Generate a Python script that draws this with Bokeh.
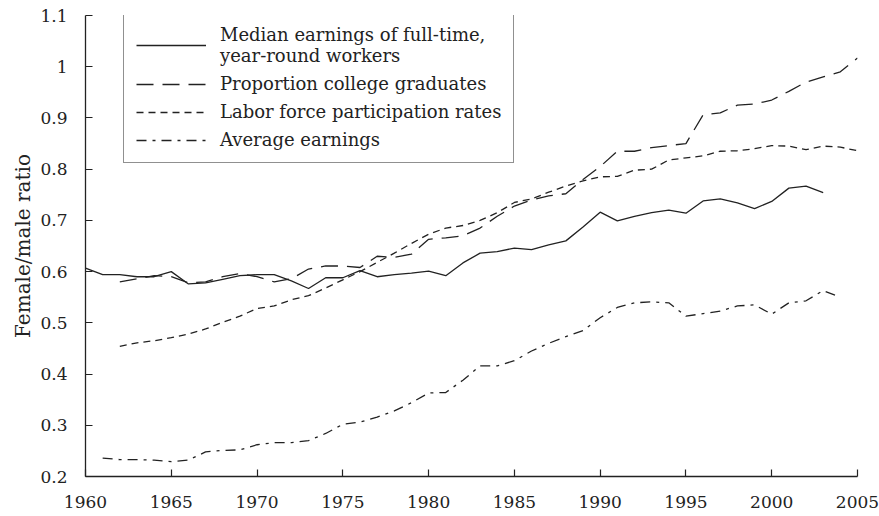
from bokeh.plotting import figure
from bokeh.models import Range1d, FixedTicker, Legend, LegendItem
from bokeh.embed import file_html
from bokeh.resources import INLINE

years_median = list(range(1960, 2004))
median_earnings = [0.607, 0.594, 0.594, 0.590, 0.590, 0.600, 0.576, 0.578, 0.585, 0.592,
                   0.594, 0.594, 0.582, 0.567, 0.588, 0.588, 0.602, 0.590, 0.594, 0.597,
                   0.601, 0.592, 0.617, 0.636, 0.639, 0.646, 0.643, 0.652, 0.660, 0.687,
                   0.716, 0.699, 0.708, 0.715, 0.720, 0.714, 0.738, 0.742, 0.734, 0.723,
                   0.737, 0.763, 0.767, 0.754]

years_college = list(range(1962, 2006))
college_grads = [0.580, 0.586, 0.592, 0.590, 0.578, 0.580, 0.590, 0.596, 0.590, 0.580,
                 0.586, 0.605, 0.611, 0.611, 0.608, 0.630, 0.628, 0.634, 0.663, 0.666,
                 0.670, 0.685, 0.708, 0.728, 0.740, 0.748, 0.752, 0.780, 0.805, 0.835,
                 0.835, 0.842, 0.846, 0.850, 0.906, 0.910, 0.925, 0.927, 0.935, 0.952,
                 0.970, 0.980, 0.990, 1.017]

years_lfp = list(range(1962, 2006))
labor_force = [0.454, 0.461, 0.465, 0.471, 0.478, 0.488, 0.501, 0.513, 0.528, 0.533,
               0.545, 0.553, 0.568, 0.584, 0.600, 0.618, 0.636, 0.655, 0.673, 0.685,
               0.690, 0.700, 0.715, 0.735, 0.742, 0.755, 0.767, 0.777, 0.785, 0.786,
               0.798, 0.800, 0.818, 0.822, 0.826, 0.835, 0.836, 0.840, 0.846, 0.845,
               0.838, 0.845, 0.843, 0.836]

years_avg = list(range(1961, 2005))
average_earnings = [0.236, 0.233, 0.233, 0.232, 0.229, 0.232, 0.248, 0.251, 0.252, 0.262,
                    0.266, 0.266, 0.270, 0.284, 0.302, 0.306, 0.316, 0.328, 0.344, 0.363,
                    0.364, 0.388, 0.416, 0.416, 0.426, 0.445, 0.460, 0.473, 0.485, 0.510,
                    0.530, 0.539, 0.541, 0.539, 0.513, 0.518, 0.523, 0.533, 0.535, 0.517,
                    0.539, 0.543, 0.563, 0.550]

x_ticks = list(range(1960, 2006, 5))
y_ticks = [0.2, 0.3, 0.4, 0.5, 0.6, 0.7, 0.8, 0.9, 1.0, 1.1]
y_tick_labels = ["0.2", "0.3", "0.4", "0.5", "0.6", "0.7", "0.8", "0.9", "1", "1.1"]

labels = ["Median earnings of full-time,\nyear-round workers",
          "Proportion college graduates",
          "Labor force participation rates",
          "Average earnings"]

FONT = "DejaVu Serif"
INK = "#222222"

p = figure(width=879, height=516, output_backend="svg", toolbar_location=None,
           x_range=Range1d(1960, 2005), y_range=Range1d(0.2, 1.1),
           frame_width=772, frame_height=461,
           min_border_left=85, min_border_top=15, min_border_right=22, min_border_bottom=40)
p.outline_line_color = None
p.xgrid.visible = False
p.ygrid.visible = False
p.background_fill_color = "white"

for ax in (p.xaxis[0], p.yaxis[0]):
    ax.axis_line_color = INK
    ax.axis_line_width = 1.3
    ax.major_tick_in = 7
    ax.major_tick_out = 0
    ax.major_tick_line_color = INK
    ax.major_tick_line_width = 1.2
    ax.minor_tick_in = 0
    ax.minor_tick_out = 0
    ax.major_label_text_font = FONT
    ax.major_label_text_font_size = "17px"
    ax.major_label_text_color = INK

p.xaxis.major_label_standoff = 19
p.yaxis.major_label_standoff = 18
p.xaxis.ticker = FixedTicker(ticks=x_ticks)
p.yaxis.ticker = FixedTicker(ticks=y_ticks)
p.yaxis.major_label_overrides = {t: s for t, s in zip(y_ticks, y_tick_labels)}
p.yaxis.axis_label = "Female/male ratio"
p.yaxis.axis_label_text_font = FONT
p.yaxis.axis_label_text_font_style = "normal"
p.yaxis.axis_label_text_font_size = "20px"
p.yaxis.axis_label_text_color = INK
p.yaxis.axis_label_standoff = 2

r1 = p.line(years_median, median_earnings, line_color=INK, line_width=1.3)
r2 = p.line(years_college, college_grads, line_color=INK, line_width=1.3, line_dash="17 9")
r3 = p.line(years_lfp, labor_force, line_color=INK, line_width=1.3, line_dash="7 5")
r4 = p.line(years_avg, average_earnings, line_color=INK, line_width=1.3, line_dash="10 6 3 6")

legend = Legend(items=[LegendItem(label=labels[0], renderers=[r1]),
                       LegendItem(label=labels[1], renderers=[r2]),
                       LegendItem(label=labels[2], renderers=[r3]),
                       LegendItem(label=labels[3], renderers=[r4])],
                location=(38, 313), margin=0)
legend.border_line_color = INK
legend.border_line_width = 1.2
legend.background_fill_alpha = 1.0
legend.label_text_font = FONT
legend.label_text_font_size = "18px"
legend.label_text_color = INK
legend.glyph_width = 70
legend.label_standoff = 14
legend.padding = 12
legend.spacing = 7
p.add_layout(legend, "center")

open("out.html", "w").write(file_html(p, INLINE))
